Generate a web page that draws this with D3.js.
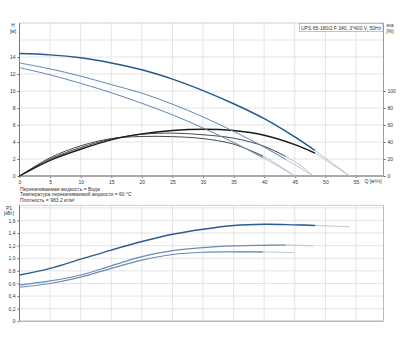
<!DOCTYPE html>
<html>
<head>
<meta charset="utf-8">
<script src="https://cdn.jsdelivr.net/npm/d3@7"></script>
<style>
  body { margin: 0; background: #fff; }
  text { font-family: "Liberation Sans", Arial, sans-serif; fill: #333; }
</style>
</head>
<body>
<div id="chart-area"></div>
<script>

// ticks
var qTicks = [0, 5, 10, 15, 20, 25, 30, 35, 40, 45, 50, 55];
var hTicks = [0, 2, 4, 6, 8, 10, 12, 14];
var etaTicks = [0, 20, 40, 60, 80, 100];
var pTicks = [0, 0.2, 0.4, 0.6, 0.8, 1.0, 1.2, 1.4, 1.6];

// speed 1 (max)
var q1   = [0, 5, 10, 15, 20, 25, 30, 35, 40, 45, 48.3, 51, 54];
var h1   = [14.4, 14.25, 13.9, 13.3, 12.5, 11.4, 10.05, 8.5, 6.75, 4.6, 3.0, 1.6, 0];
var eta1 = [0, 18.5, 31.5, 42.5, 49.5, 53.5, 55, 53.5, 48, 37, 27, 14, 0];
var p1   = [0.735, 0.84, 0.985, 1.13, 1.265, 1.38, 1.46, 1.52, 1.54, 1.53, 1.52, 1.51, 1.50];
var cut1 = 10;

// speed 2
var q2   = [0, 5, 10, 15, 20, 25, 30, 35, 40, 43.5, 46, 48];
var h2   = [13.3, 12.6, 11.75, 10.75, 9.75, 8.45, 6.95, 5.25, 3.4, 1.95, 0.9, 0];
var eta2 = [0, 20, 33.5, 43.5, 49, 50.5, 48.5, 44.5, 35, 23, 12, 0];
var p2   = [0.575, 0.64, 0.735, 0.88, 1.025, 1.12, 1.17, 1.195, 1.205, 1.21, 1.205, 1.195];
var cut2 = 9;

// speed 3
var q3   = [0, 5, 10, 15, 20, 25, 30, 35, 39.8, 42.5, 45];
var h3   = [12.75, 11.9, 10.9, 9.8, 8.55, 7.2, 5.65, 3.95, 2.15, 1.05, 0];
var eta3 = [0, 21.5, 35.5, 44, 46.5, 46.3, 44, 37.5, 23.5, 12, 0];
var p3   = [0.54, 0.60, 0.70, 0.84, 0.97, 1.06, 1.095, 1.10, 1.10, 1.095, 1.09];
var cut3 = 8;

var title = "UPS 65-180/2 F 340, 3*400 V, 50Hz";
var notes = ["Перекачиваемая жидкость = Вода",
             "Температура перекачиваемой жидкости = 60 °C",
             "Плотность = 983.2 кг/м³"];

var W = 400, H = 350;
var left = 19.5, right = 383.5;
var top1 = 23, bot1 = 176;
var top2 = 205.3, bot2 = 321.3;

var svg = d3.select("#chart-area")
	.append("svg")
		.attr("width", W)
		.attr("height", H);

var x = d3.scaleLinear().domain([0, 59.5]).range([left, right]);
var yH = d3.scaleLinear().domain([0, 18]).range([bot1, top1]);
var yEta = d3.scaleLinear().domain([0, 180]).range([bot1, top1]);
var yP = d3.scaleLinear().domain([0, 1.84]).range([bot2, top2]);

var gridColor = "#e4e4e4";

function grid(y, yTicks, top, bot) {
	var g = svg.append("g");
	g.selectAll(".vg").data(qTicks).enter().append("line")
		.attr("x1", function(d) { return x(d); })
		.attr("x2", function(d) { return x(d); })
		.attr("y1", top).attr("y2", bot)
		.attr("stroke", gridColor).attr("stroke-width", 1);
	g.selectAll(".hg").data(yTicks).enter().append("line")
		.attr("x1", left).attr("x2", right)
		.attr("y1", function(d) { return y(d); })
		.attr("y2", function(d) { return y(d); })
		.attr("stroke", gridColor).attr("stroke-width", 1);
	g.append("line").attr("x1", left).attr("x2", right).attr("y1", top).attr("y2", top)
		.attr("stroke", "#cfcfcf");
}

grid(yH, [2, 4, 6, 8, 10, 12, 14, 16], top1, bot1);
grid(yP, [0.2, 0.4, 0.6, 0.8, 1.0, 1.2, 1.4, 1.6, 1.8], top2, bot2);

function styleAxis(g) {
	g.select(".domain").remove();
	g.selectAll(".tick line").attr("stroke", "#666");
	g.selectAll(".tick text").attr("font-size", "5px").attr("fill", "#333")
		.attr("font-family", "Liberation Sans, Arial, sans-serif");
}

// top chart axes
svg.append("g")
	.attr("transform", "translate(" + left + ",0)")
	.call(d3.axisLeft(yH).tickValues(hTicks).tickSize(2).tickPadding(2))
	.call(styleAxis);

svg.append("g")
	.attr("transform", "translate(" + right + ",0)")
	.call(d3.axisRight(yEta).tickValues(etaTicks).tickSize(2).tickPadding(2))
	.call(styleAxis);

svg.append("g")
	.attr("transform", "translate(0," + bot1 + ")")
	.call(d3.axisBottom(x).tickValues(qTicks).tickSize(2).tickPadding(2))
	.call(styleAxis);

// bottom chart axes
svg.append("g")
	.attr("transform", "translate(" + left + ",0)")
	.call(d3.axisLeft(yP).tickValues(pTicks).tickSize(2).tickPadding(2)
		.tickFormat(function(d) { return d === 0 ? "0" : d3.format(".1f")(d).replace(".", ","); }))
	.call(styleAxis);

// frame lines
svg.append("line").attr("x1", left).attr("x2", left).attr("y1", top1).attr("y2", bot1)
	.attr("stroke", "#777").attr("stroke-width", 1);
svg.append("line").attr("x1", right).attr("x2", right).attr("y1", top1).attr("y2", bot1)
	.attr("stroke", "#999").attr("stroke-width", 1);
svg.append("line").attr("x1", left).attr("x2", right).attr("y1", bot1).attr("y2", bot1)
	.attr("stroke", "#aaa").attr("stroke-width", 1.8);
svg.append("line").attr("x1", left).attr("x2", left).attr("y1", top2).attr("y2", bot2)
	.attr("stroke", "#777").attr("stroke-width", 1);
svg.append("line").attr("x1", right).attr("x2", right).attr("y1", top2).attr("y2", bot2)
	.attr("stroke", "#bbb").attr("stroke-width", 1);
svg.append("line").attr("x1", left).attr("x2", right).attr("y1", bot2).attr("y2", bot2)
	.attr("stroke", "#bbb").attr("stroke-width", 1.5);

// curves: light tail first, then the dark working range over it
var lightColor = "#b9c5d2";

function curve(qs, vs, y, cut, color, width) {
	var pts = qs.map(function(q, i) { return [q, vs[i]]; });
	var line = d3.line()
		.x(function(d) { return x(d[0]); })
		.y(function(d) { return y(d[1]); })
		.curve(d3.curveCatmullRom.alpha(0.5));
	svg.append("path").datum(pts.slice(cut - 1))
		.attr("d", line)
		.attr("fill", "none").attr("stroke", lightColor).attr("stroke-width", 1);
	svg.append("path").datum(pts.slice(0, cut + 1))
		.attr("d", line)
		.attr("fill", "none").attr("stroke", color).attr("stroke-width", width);
}

curve(q3, eta3, yEta, cut3, "#4a4a4a", 1);
curve(q2, eta2, yEta, cut2, "#4a4a4a", 1);
curve(q1, eta1, yEta, cut1, "#1a1a1a", 1.4);

curve(q3, h3, yH, cut3, "#5d88b5", 1);
curve(q2, h2, yH, cut2, "#5d88b5", 1);
curve(q1, h1, yH, cut1, "#235a8e", 1.5);

curve(q3, p3, yP, cut3, "#6a8db3", 1.2);
curve(q2, p2, yP, cut2, "#6a8db3", 1.2);
curve(q1, p1, yP, cut1, "#2a5d90", 1.4);

// legend box
var lg = svg.append("g");
lg.append("rect")
	.attr("x", 299.5).attr("y", 23.5).attr("width", 83.5).attr("height", 8)
	.attr("fill", "#fff").attr("stroke", "#999").attr("stroke-width", 0.6);
lg.append("text")
	.attr("x", 301).attr("y", 29.5)
	.attr("font-size", "5px")
	.text(title);

// unit labels
svg.append("text").attr("x", 13).attr("y", 27).attr("font-size", "5px").attr("text-anchor", "middle").text("H");
svg.append("text").attr("x", 13).attr("y", 33).attr("font-size", "5px").attr("text-anchor", "middle").text("[м]");
svg.append("text").attr("x", 390).attr("y", 27).attr("font-size", "5px").attr("text-anchor", "middle").text("eta");
svg.append("text").attr("x", 390).attr("y", 33).attr("font-size", "5px").attr("text-anchor", "middle").text("[%]");
svg.append("text").attr("x", 373).attr("y", 182.5).attr("font-size", "5px").attr("text-anchor", "middle").text("Q [м³/ч]");
svg.append("text").attr("x", 9).attr("y", 210).attr("font-size", "5px").attr("text-anchor", "middle").text("P1");
svg.append("text").attr("x", 9).attr("y", 215).attr("font-size", "5px").attr("text-anchor", "middle").text("[кВт]");

// notes
svg.selectAll(".note").data(notes).enter().append("text")
	.attr("x", 20)
	.attr("y", function(d, i) { return 190.5 + i * 5.6; })
	.attr("font-size", "5px")
	.text(function(d) { return d; });

</script>
</body>
</html>
